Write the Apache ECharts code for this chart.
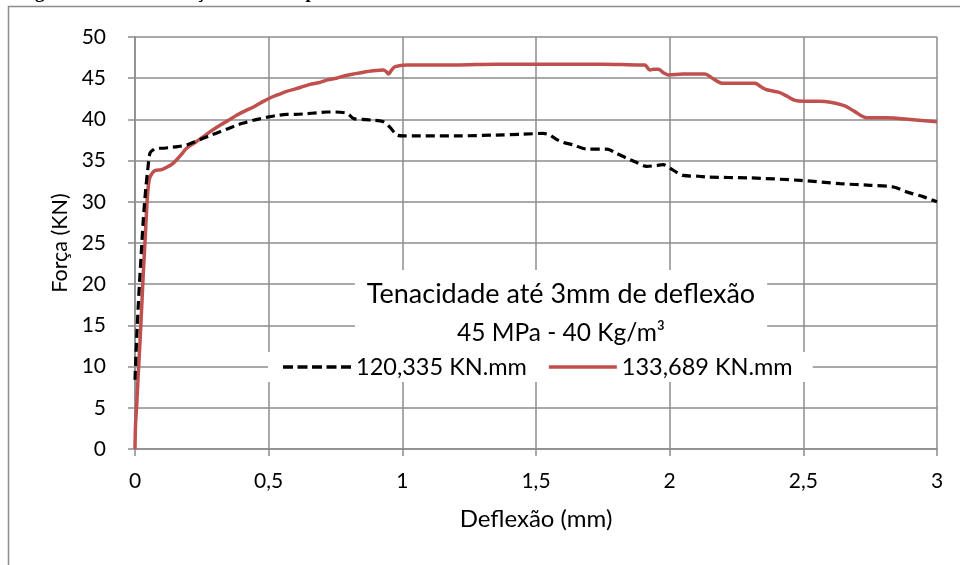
<!DOCTYPE html>
<html>
<head>
<meta charset="utf-8">
<script src="https://cdn.jsdelivr.net/npm/echarts@6/dist/echarts.min.js"></script>
<style>
  html, body { margin: 0; padding: 0; background: #ffffff; }
  #chart { width: 960px; height: 565px; }
</style>
</head>
<body>
<div id="chart"></div>
<script>
// Force x deflection curves, 45 MPa concrete with 40 kg/m³ fibres
const seriesNames = ['120,335 KN.mm', '133,689 KN.mm'];

// Specimen 1 (dashed black)
const deflA = [0, 0.005, 0.012, 0.022, 0.031, 0.04, 0.048, 0.056, 0.068, 0.081, 0.10, 0.131, 0.16, 0.193, 0.225, 0.255, 0.285, 0.318, 0.35, 0.38, 0.41, 0.443, 0.47, 0.50, 0.535, 0.567, 0.6, 0.642, 0.68, 0.717, 0.75, 0.786, 0.80, 0.817, 0.85, 0.89, 0.93, 0.955, 0.98, 1.004, 1.066, 1.2, 1.35, 1.45, 1.527, 1.552, 1.575, 1.602, 1.64, 1.69, 1.765, 1.80, 1.839, 1.875, 1.914, 1.95, 1.976, 2.0, 2.025, 2.05, 2.11, 2.139, 2.3, 2.488, 2.637, 2.75, 2.837, 2.887, 2.95, 3.0];
const forceA = [8.4, 12.5, 17.3, 23, 27.8, 31.5, 34, 35.9, 36.3, 36.5, 36.5, 36.6, 36.7, 36.9, 37.3, 37.7, 38.1, 38.5, 38.9, 39.3, 39.6, 39.9, 40.1, 40.3, 40.5, 40.6, 40.6, 40.7, 40.8, 40.9, 40.9, 40.8, 40.6, 40.1, 40.0, 39.9, 39.7, 39.0, 38.1, 38.0, 38.0, 38.0, 38.1, 38.2, 38.3, 38.1, 37.6, 37.2, 36.9, 36.4, 36.4, 35.9, 35.3, 34.8, 34.3, 34.4, 34.5, 34.1, 33.6, 33.2, 33.1, 33.0, 32.9, 32.6, 32.2, 32.0, 31.8, 31.2, 30.6, 30.0];

// Specimen 2 (solid red)
const deflB = [0, 0.002, 0.006, 0.012, 0.019, 0.025, 0.031, 0.038, 0.044, 0.05, 0.056, 0.075, 0.1, 0.125, 0.14, 0.156, 0.175, 0.193, 0.225, 0.256, 0.285, 0.318, 0.35, 0.38, 0.41, 0.443, 0.475, 0.505, 0.535, 0.567, 0.6, 0.63, 0.66, 0.692, 0.72, 0.754, 0.785, 0.817, 0.85, 0.891, 0.929, 0.94, 0.948, 0.96, 0.973, 1.016, 1.066, 1.2, 1.35, 1.49, 1.6, 1.75, 1.889, 1.908, 1.914, 1.926, 1.94, 1.958, 1.975, 1.995, 2.05, 2.132, 2.16, 2.195, 2.25, 2.319, 2.34, 2.363, 2.407, 2.44, 2.469, 2.5, 2.562, 2.65, 2.69, 2.737, 2.812, 2.9, 3.0];
const forceB = [0, 3, 5.1, 9, 13.2, 17.2, 21.3, 25.5, 29.4, 32.0, 33.0, 33.8, 33.9, 34.3, 34.6, 35.1, 35.8, 36.5, 37.2, 37.9, 38.6, 39.3, 39.9, 40.5, 41.0, 41.5, 42.1, 42.6, 43.0, 43.4, 43.7, 44.0, 44.3, 44.5, 44.8, 45.0, 45.3, 45.5, 45.7, 45.9, 46.0, 45.8, 45.5, 46.0, 46.4, 46.6, 46.6, 46.6, 46.7, 46.7, 46.7, 46.7, 46.6, 46.6, 46.4, 46.0, 46.1, 46.1, 45.7, 45.4, 45.5, 45.5, 45.0, 44.4, 44.4, 44.4, 44.0, 43.6, 43.3, 42.8, 42.3, 42.2, 42.2, 41.7, 41.0, 40.2, 40.2, 40.0, 39.7];

const titleText = 'Tenacidade até 3mm de deflexão';
const subtitleText = '45 MPa - 40 Kg/m³';
const xAxisName = 'Deflexão (mm)';
const yAxisName = 'Força (KN)';
const captionText = 'Figura 45 – Curva força x deflexão para CP';

const pairs = (xs, ys) => xs.map((x, i) => [x, ys[i]]);
const font = 'Lato, "Open Sans", sans-serif';
const gridGray = '#8c8c8c';
const red = '#c0504d';

// Legend keys: five dashes for the dashed series, a plain bar for the solid one
const dashIcon = 'path://M0,0h10v3.4h-10z M14.5,0h10v3.4h-10z M29,0h10v3.4h-10z M43.5,0h10v3.4h-10z M58,0h10v3.4h-10z';
const solidIcon = 'path://M0,0h68v3.4h-68z';

const chart = echarts.init(document.getElementById('chart'), null, { renderer: 'canvas' });
chart.setOption({
  animation: false,
  backgroundColor: '#ffffff',
  textStyle: { fontFamily: font, color: '#000' },
  graphic: [
    {
      type: 'rect',
      shape: { x: 8.5, y: 6.5, width: 1000, height: 700 },
      style: { fill: 'none', stroke: gridGray, lineWidth: 1.5 },
      silent: true, z: -1
    },
    {
      // caption of the page above the chart frame, mostly cut off at the top edge
      type: 'text',
      x: 18, y: 2.5,
      style: {
        text: captionText,
        font: 'bold 19px "Liberation Serif", "Times New Roman", serif',
        fill: '#000',
        verticalAlign: 'bottom'
      },
      silent: true
    }
  ],
  title: {
    text: titleText,
    subtext: subtitleText,
    left: 549,
    top: 270,
    textAlign: 'center',
    backgroundColor: '#ffffff',
    padding: [8, 12, 4, 12],
    itemGap: 6,
    textStyle: { fontFamily: font, fontSize: 27, lineHeight: 33, fontWeight: 'normal', color: '#000' },
    subtextStyle: { fontFamily: font, fontSize: 24.5, lineHeight: 32, color: '#000' }
  },
  legend: {
    data: [
      { name: seriesNames[0], icon: dashIcon },
      { name: seriesNames[1], icon: solidIcon }
    ],
    left: 268,
    top: 352,
    backgroundColor: '#ffffff',
    padding: [3, 20, 3, 15],
    itemWidth: 68,
    itemHeight: 3.4,
    itemGap: 22,
    textStyle: { fontFamily: font, fontSize: 23.5, color: '#000' }
  },
  grid: { left: 135, right: 23, top: 37, bottom: 116, containLabel: false },
  xAxis: {
    type: 'value',
    min: 0, max: 3, interval: 0.5,
    name: xAxisName,
    nameLocation: 'middle',
    nameGap: 58,
    nameTextStyle: { fontFamily: font, fontSize: 24, color: '#000' },
    axisLine: { show: true, lineStyle: { color: gridGray, width: 1.5 } },
    axisTick: { show: true, length: 7, lineStyle: { color: gridGray, width: 1.5 } },
    axisLabel: {
      fontFamily: font, fontSize: 21, color: '#000', margin: 22,
      formatter: v => String(v).replace('.', ',')
    },
    splitLine: { show: true, lineStyle: { color: gridGray, width: 1.5 } }
  },
  yAxis: {
    type: 'value',
    min: 0, max: 50, interval: 5,
    name: yAxisName,
    nameLocation: 'middle',
    nameGap: 59,
    nameTextStyle: { fontFamily: font, fontSize: 21.5, color: '#000' },
    axisLine: { show: true, lineStyle: { color: gridGray, width: 1.5 } },
    axisTick: { show: true, length: 7, lineStyle: { color: gridGray, width: 1.5 } },
    axisLabel: { fontFamily: font, fontSize: 21, color: '#000', margin: 29 },
    splitLine: { show: true, lineStyle: { color: gridGray, width: 1.5 } }
  },
  series: [
    {
      name: seriesNames[0],
      type: 'line',
      data: pairs(deflA, forceA),
      symbol: 'none',
      smooth: 0.3,
      z: 3,
      itemStyle: { color: '#000000' },
      lineStyle: { color: '#000000', width: 3.2, type: [9, 5], cap: 'butt' }
    },
    {
      name: seriesNames[1],
      type: 'line',
      data: pairs(deflB, forceB),
      symbol: 'none',
      smooth: 0.3,
      z: 2,
      itemStyle: { color: red },
      lineStyle: { color: red, width: 3.5 }
    }
  ]
});
</script>
</body>
</html>
